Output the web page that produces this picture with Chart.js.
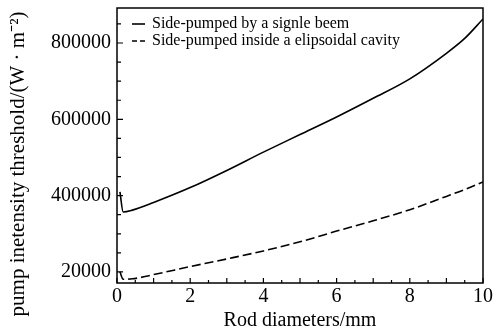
<!DOCTYPE html>
<html>
<head>
<meta charset="utf-8">
<script src="https://cdn.jsdelivr.net/npm/chart.js@4.4.1/dist/chart.umd.min.js"></script>
<style>
  html, body { margin: 0; padding: 0; background: #fff; }
  #wrap { width: 500px; height: 333px; }
</style>
</head>
<body>
<div id="wrap"><canvas id="threshold"></canvas></div>
<script>
// values
const rodDiameters = [0.08, 0.17, 0.42, 1, 2, 3, 4, 5, 6, 7, 8, 9, 9.5, 10];
const singleBeam = [410000, 357000, 362000, 382000, 421000, 466000, 514000, 560000, 606000, 655000, 706000, 773000, 812000, 863000];
const ellipsoidCavity = [200000, 181000, 182000, 193000, 214000, 234000, 255000, 279000, 307000, 334000, 363000, 398000, 416000, 436000];

const xTickValues = [0, 2, 4, 6, 8, 10];
const yTickValues = [200000, 400000, 600000, 800000];
const yTickLabels = ['20000', '400000', '600000', '800000'];

const seriesLabels = ['Side-pumped by a signle beem', 'Side-pumped inside a elipsoidal cavity'];
const xTitle = 'Rod diameters/mm';
const yTitle = 'pump inetensity threshold/(W \u00b7 m\u207b\u00b2)';

const serif = '"Liberation Serif", "Times New Roman", serif';

// frame, inward ticks, legend and y title
const framePlugin = {
    id: 'frame',
    afterDraw(chart) {
        const ctx = chart.ctx;
        const { left, right, top, bottom } = chart.chartArea;
        const x = chart.scales.x, y = chart.scales.y;
        ctx.save();
        ctx.strokeStyle = '#000';
        ctx.lineWidth = 1.5;
        ctx.strokeRect(left, top, right - left, bottom - top);

        ctx.beginPath();
        ctx.lineWidth = 1.2;
        for (let v = 0; v <= 10; v += 0.5) {
            const px = x.getPixelForValue(v);
            const len = Number.isInteger(v) ? 5 : 3;
            ctx.moveTo(px, bottom);
            ctx.lineTo(px, bottom - len);
        }
        for (let v = 200000; v <= 850000; v += 50000) {
            const py = y.getPixelForValue(v);
            const len = v % 200000 === 0 ? 6 : 4;
            ctx.moveTo(left, py);
            ctx.lineTo(left + len, py);
        }
        ctx.stroke();

        // legend
        ctx.font = '16px ' + serif;
        ctx.fillStyle = '#000';
        ctx.textBaseline = 'middle';
        ctx.textAlign = 'left';
        const rows = [24, 41];
        chart.data.datasets.forEach((ds, i) => {
            ctx.beginPath();
            ctx.lineWidth = 1.6;
            ctx.setLineDash(i === 1 ? [5, 3] : []);
            ctx.moveTo(132, rows[i]);
            ctx.lineTo(145, rows[i]);
            ctx.stroke();
            ctx.setLineDash([]);
            ctx.fillText(ds.label, 152, rows[i]);
        });

        // y axis title
        ctx.translate(18, 164);
        ctx.rotate(-Math.PI / 2);
        ctx.font = '21px ' + serif;
        ctx.textAlign = 'center';
        ctx.fillText(yTitle, 0, 0);
        ctx.restore();
    }
};

const chart = new Chart(document.getElementById('threshold').getContext('2d'), {
    type: 'line',
    data: {
        datasets: [
            {
                label: seriesLabels[0],
                data: rodDiameters.map((d, i) => ({ x: d, y: singleBeam[i] })),
                borderColor: '#000',
                borderWidth: 1.6,
                pointRadius: 0,
                cubicInterpolationMode: 'monotone'
            },
            {
                label: seriesLabels[1],
                data: rodDiameters.map((d, i) => ({ x: d, y: ellipsoidCavity[i] })),
                borderColor: '#000',
                borderWidth: 1.6,
                borderDash: [9, 4],
                pointRadius: 0,
                cubicInterpolationMode: 'monotone'
            }
        ]
    },
    options: {
        responsive: true,
        maintainAspectRatio: false,
        animation: false,
        devicePixelRatio: 1,
        layout: { padding: { left: 0, right: 17, top: 8, bottom: 0 } },
        plugins: {
            legend: { display: false },
            tooltip: { enabled: false }
        },
        scales: {
            x: {
                type: 'linear',
                min: 0,
                max: 10,
                afterBuildTicks: (scale) => { scale.ticks = xTickValues.map(v => ({ value: v })); },
                afterFit: (scale) => { scale.height = 50; scale.paddingLeft = 0; scale.paddingRight = 0; },
                grid: { display: false, drawTicks: false },
                border: { display: false },
                ticks: {
                    color: '#000',
                    font: { family: serif, size: 20 },
                    padding: 2,
                    maxRotation: 0,
                    autoSkip: false
                },
                title: {
                    display: true,
                    text: xTitle,
                    color: '#000',
                    font: { family: serif, size: 20 },
                    padding: { top: 0, bottom: 0 }
                }
            },
            y: {
                type: 'linear',
                min: 171000,
                max: 891700,
                afterBuildTicks: (scale) => { scale.ticks = yTickValues.map(v => ({ value: v })); },
                afterFit: (scale) => { scale.width = 117; scale.paddingTop = 0; scale.paddingBottom = 0; },
                grid: { display: false, drawTicks: false },
                border: { display: false },
                ticks: {
                    color: '#000',
                    font: { family: serif, size: 20 },
                    padding: 6,
                    autoSkip: false,
                    callback: (v) => yTickLabels[yTickValues.indexOf(v)]
                }
            }
        }
    },
    plugins: [framePlugin]
});
</script>
</body>
</html>
